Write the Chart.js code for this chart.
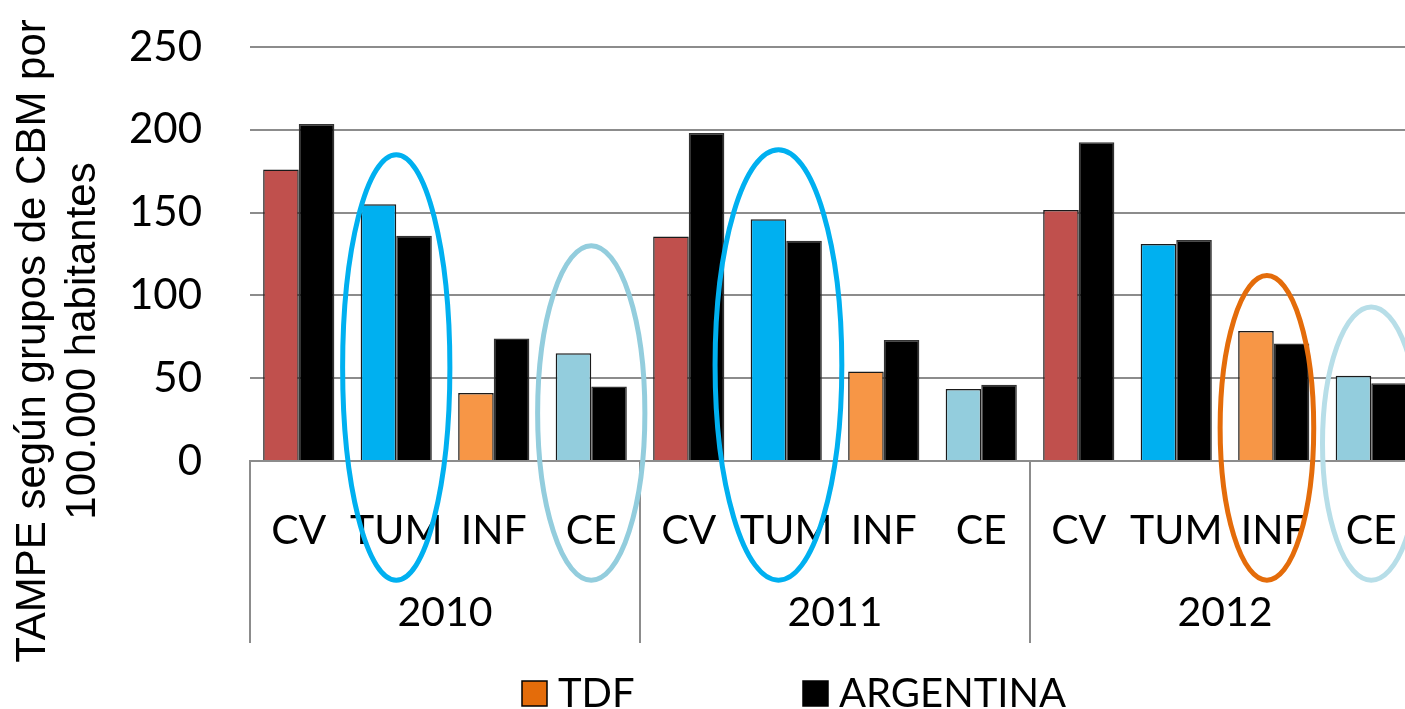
<!DOCTYPE html>
<html>
<head>
<meta charset="utf-8">
<script src="https://cdn.jsdelivr.net/npm/chart.js@4.4.1/dist/chart.umd.min.js"></script>
<style>
html, body { margin: 0; padding: 0; background: #fff; overflow: hidden; }
canvas { display: block; }
</style>
</head>
<body>
<canvas id="myChart" width="1420" height="709"></canvas>
<script>
var years = ['2010', '2011', '2012'];
var labels = ['CV', 'TUM', 'INF', 'CE', 'CV', 'TUM', 'INF', 'CE', 'CV', 'TUM', 'INF', 'CE'];
var tdf = [176, 155, 41, 65, 135.5, 146, 54, 43.5, 151.5, 131, 78.5, 51.5];
var argentina = [203.5, 136, 74, 45, 198, 133, 73, 46, 192.5, 133.5, 71, 47];
var yTicks = [0, 50, 100, 150, 200, 250];
var yTitle = ['TAMPE según grupos de CBM por', '100.000 habitantes'];

var groupColors = { CV: '#C0504D', TUM: '#00B0F0', INF: '#F79646', CE: '#93CDDD' };
var legendColors = ['#E46C0A', '#000000'];

// hand drawn ellipses: category index, top/bottom in y units, half width in categories
var rings = [
    { index: 1, shift: 0, half: 0.55, top: 185, bottom: -72, color: '#00B0F0' },
    { index: 3, shift: 0, half: 0.55, top: 130, bottom: -72, color: '#93CDDD' },
    { index: 5, shift: -0.08, half: 0.65, top: 188, bottom: -72, color: '#00B0F0' },
    { index: 10, shift: -0.07, half: 0.48, top: 112, bottom: -72, color: '#E46C0A' },
    { index: 11, shift: 0, half: 0.5, top: 93, bottom: -72, color: '#B7DEE8' }
];

var sans = 'Lato, "Liberation Sans", sans-serif';
var grey = '#8c8c8c';

var extras = {
    id: 'extras',
    afterDraw: function(chart) {
        var ctx = chart.ctx;
        var x = chart.scales.x, y = chart.scales.y;
        var step = x.getPixelForValue(1) - x.getPixelForValue(0);
        var base = chart.chartArea.bottom;
        ctx.save();

        // year groups under the category labels
        ctx.strokeStyle = grey;
        ctx.lineWidth = 2;
        ctx.fillStyle = '#000';
        ctx.font = '41px ' + sans;
        ctx.textAlign = 'center';
        ctx.textBaseline = 'middle';
        for (var g = 0; g < years.length; g++) {
            var left = x.getPixelForValue(g * 4) - step / 2;
            ctx.beginPath();
            ctx.moveTo(left, base);
            ctx.lineTo(left, base + 182);
            ctx.stroke();
            ctx.fillText(years[g], left + step * 2, base + 152);
        }

        // ellipses
        ctx.lineWidth = 5;
        rings.forEach(function(r) {
            var cx = x.getPixelForValue(r.index) + r.shift * step;
            var t = y.getPixelForValue(r.top), b = y.getPixelForValue(r.bottom);
            ctx.strokeStyle = r.color;
            ctx.beginPath();
            ctx.ellipse(cx, (t + b) / 2, r.half * step, (b - t) / 2, 0, 0, Math.PI * 2);
            ctx.stroke();
        });

        // y axis title
        ctx.font = '42px "Liberation Sans", Arial, sans-serif';
        for (var i = 0; i < yTitle.length; i++) {
            ctx.save();
            ctx.translate(33 + i * 50, 341);
            ctx.rotate(-Math.PI / 2);
            ctx.fillText(yTitle[i], 0, 0);
            ctx.restore();
        }

        // legend
        ctx.font = '40px ' + sans;
        ctx.textAlign = 'left';
        ctx.lineWidth = 1.5;
        ctx.strokeStyle = '#000';
        chart.data.datasets.forEach(function(ds, k) {
            var bx = 522 + k * 281;
            ctx.fillStyle = legendColors[k];
            ctx.fillRect(bx, 681, 25, 25);
            ctx.strokeRect(bx, 681, 25, 25);
            ctx.fillStyle = '#000';
            ctx.fillText(ds.label, bx + 36, 694);
        });
        ctx.restore();
    }
};

var data = {
    labels: labels,
    datasets: [{
        label: 'TDF',
        data: tdf,
        backgroundColor: labels.map(function(l) { return groupColors[l]; }),
        borderColor: '#1a1a1a',
        borderWidth: 1.5
    }, {
        label: 'ARGENTINA',
        data: argentina,
        backgroundColor: '#000000',
        borderColor: '#333333',
        borderWidth: 1.5
    }]
};

var options = {
    responsive: false,
    animation: false,
    devicePixelRatio: 1,
    layout: { padding: { top: 47, left: 0, right: 0, bottom: 0 } },
    datasets: { bar: { categoryPercentage: 0.73, barPercentage: 1 } },
    plugins: {
        legend: { display: false },
        tooltip: { enabled: false }
    },
    scales: {
        x: {
            grid: { display: false },
            border: { display: true, color: grey, width: 2 },
            ticks: {
                color: '#000',
                font: { family: sans, size: 41, lineHeight: 1.2 },
                padding: 37,
                maxRotation: 0,
                autoSkip: false
            },
            afterFit: function(scale) {
                scale.height = 248;
                scale.paddingLeft = 0;
                scale.paddingRight = 0;
            }
        },
        y: {
            min: 0,
            max: 250,
            border: { display: false },
            grid: { color: grey, lineWidth: 2, drawTicks: false },
            ticks: {
                color: '#000',
                font: { family: sans, size: 42, lineHeight: 1.2 },
                padding: 48
            },
            afterBuildTicks: function(axis) {
                axis.ticks = yTicks.map(function(v) { return { value: v }; });
            },
            afterFit: function(scale) {
                scale.width = 250;
                scale.paddingTop = 0;
                scale.paddingBottom = 0;
            }
        }
    }
};

var ctx = document.getElementById('myChart').getContext('2d');
var myChart = new Chart(ctx, {
    type: 'bar',
    data: data,
    options: options,
    plugins: [extras]
});
</script>
</body>
</html>
